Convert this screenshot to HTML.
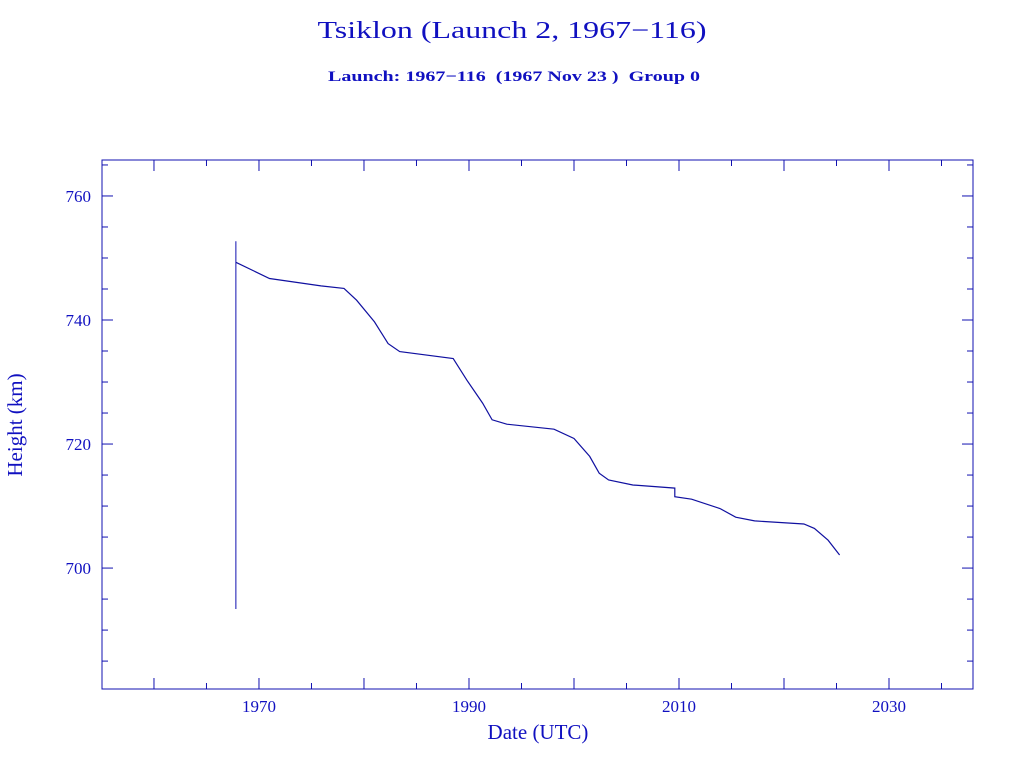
<!DOCTYPE html>
<html><head><meta charset="utf-8"><style>
html,body{margin:0;padding:0;background:#fff;}
svg{display:block;}
text{font-family:"Liberation Serif",serif;fill:#1010c0;white-space:pre;}
</style></head><body>
<svg id="chart" width="1024" height="768" viewBox="0 0 1024 768" xmlns="http://www.w3.org/2000/svg">
<text x="512" y="38" font-size="24" text-anchor="middle" textLength="389" lengthAdjust="spacingAndGlyphs">Tsiklon (Launch 2, 1967−116)</text>
<text x="514" y="81" font-size="15" font-weight="bold" text-anchor="middle" textLength="372" lengthAdjust="spacingAndGlyphs" xml:space="preserve">Launch: 1967−116  (1967 Nov 23 )  Group 0</text>
<rect x="102" y="160" width="871" height="529" fill="none" stroke="#1010b0" stroke-width="1"/>
<g id="axes"></g>
<text x="538" y="739" font-size="21" text-anchor="middle">Date (UTC)</text>
<text transform="translate(22,425) rotate(-90)" font-size="21" text-anchor="middle">Height (km)</text>
<g id="series"></g>
</svg>
<script>
const xTicks=[1970,1990,2010,2030];
const yTicks=[700,720,740,760];
const launchYear=[1967.8,1967.8];
const launchSpan=[693.4,752.7];
const years=[1967.8,1971.0,1975.9,1978.1,1979.3,1981.0,1982.3,1983.4,1988.5,1989.8,1991.3,1992.2,1993.6,1998.1,2000.0,2001.5,2002.4,2003.3,2005.6,2009.6,2009.6,2011.2,2013.9,2015.4,2017.2,2021.9,2022.9,2024.2,2025.3];
const heights=[749.3,746.7,745.5,745.1,743.2,739.7,736.2,734.9,733.8,730.3,726.6,723.9,723.2,722.4,720.9,718.0,715.3,714.2,713.4,712.9,711.5,711.1,709.6,708.2,707.6,707.1,706.4,704.5,702.1];
const X0=102,X1=973,Y0=689,Y1=160;
const xMin=1955.05,xMax=2038.0,yMin=680.5,yMax=765.8;
const sx=v=>X0+(v-xMin)/(xMax-xMin)*(X1-X0);
const sy=v=>Y0-(v-yMin)/(yMax-yMin)*(Y0-Y1);
const NS="http://www.w3.org/2000/svg";
const axes=document.getElementById('axes');
function ln(x1,y1,x2,y2,name,par){const l=document.createElementNS(NS,'line');
l.setAttribute('x1',x1);l.setAttribute('y1',y1);l.setAttribute('x2',x2);l.setAttribute('y2',y2);
l.setAttribute('stroke','#1010b0');l.setAttribute('stroke-width','1');


par.appendChild(l);return l;}
function tx(x,y,s,anchor,name){const t=document.createElementNS(NS,'text');
t.setAttribute('x',x);t.setAttribute('y',y);t.setAttribute('font-size','17');t.setAttribute('text-anchor',anchor);t.textContent=s;


axes.appendChild(t);}
for(let v=1960;v<=2035;v+=5){const x=sx(v);const major=(v%10===0);const L=major?11:6;
ln(x,Y0,x,Y0-L,'x-tick',axes);ln(x,Y1,x,Y1+L,'x-tick-top',axes);}
xTicks.forEach(v=>tx(sx(v),712,String(v),'middle','x-tick-label'));
for(let v=685;v<=765;v+=5){const y=sy(v);const major=(v%20===0);const L=major?11:6;
ln(X0,y,X0+L,y,'y-tick',axes);ln(X1,y,X1-L,y,'y-tick-right',axes);}
yTicks.forEach(v=>tx(91,sy(v)+6,String(v),'end','y-tick-label'));
const series=document.getElementById('series');
ln(sx(launchYear[0]),sy(launchSpan[0]),sx(launchYear[1]),sy(launchSpan[1]),'launch-line',series);
const p=document.createElementNS(NS,'polyline');
p.setAttribute('points',years.map((y,i)=>sx(y).toFixed(1)+','+sy(heights[i]).toFixed(1)).join(' '));
p.setAttribute('fill','none');p.setAttribute('stroke','#1010a0');p.setAttribute('stroke-width','1.2');


series.appendChild(p);
</script>
</body></html>
